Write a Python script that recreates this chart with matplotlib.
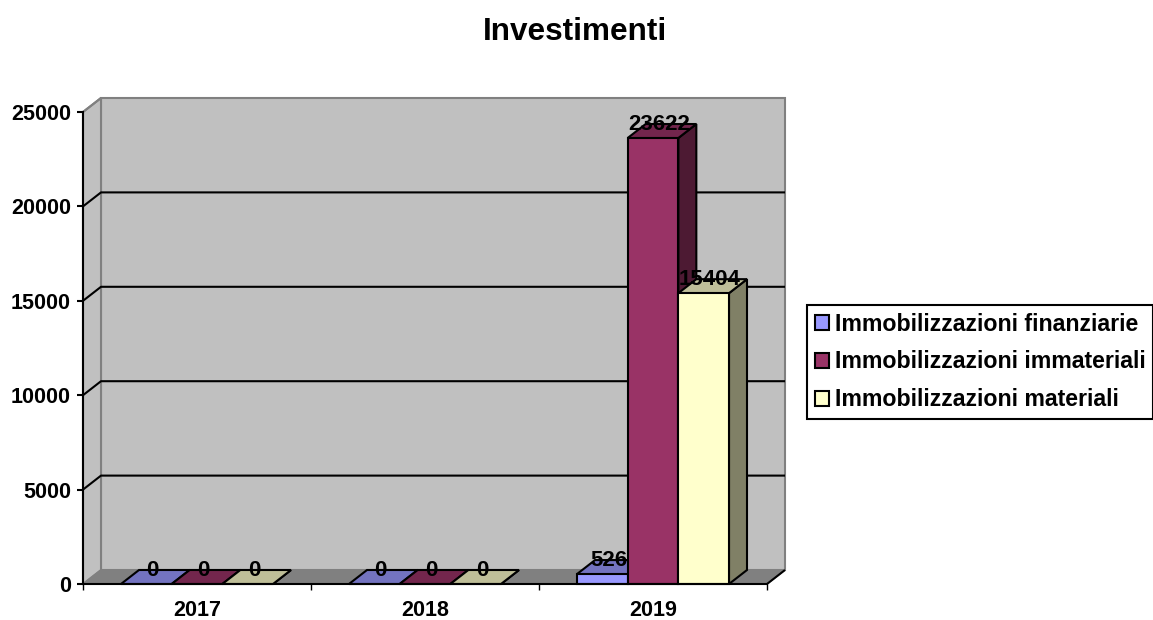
import matplotlib
matplotlib.use('Agg')
import matplotlib.pyplot as plt
from matplotlib.patches import Polygon, Rectangle

plt.rcParams['font.family'] = ['Liberation Sans', 'DejaVu Sans']
plt.rcParams['font.weight'] = 'bold'

years = ['2017', '2018', '2019']
series_names = ['Immobilizzazioni finanziarie', 'Immobilizzazioni immateriali', 'Immobilizzazioni materiali']
finanziarie = [0, 0, 526]
immateriali = [0, 0, 23622]
materiali = [0, 0, 15404]
yticks = [0, 5000, 10000, 15000, 20000, 25000]

front_colours = ['#9999FF', '#993366', '#FFFFCC']
top_colours = ['#7373C0', '#73264D', '#BFBF99']
side_colours = ['#4D4D80', '#4D1A33', '#808066']

W, H = 1153, 620
fig = plt.figure(figsize=(W / 100, H / 100), dpi=100)
ax = fig.add_axes([83 / W, (H - 584) / H, 684 / W, 472 / H])
ax.set_xlim(0, 3)
ax.set_ylim(0, 25000)
ax.patch.set_visible(False)

# depth of the fake 3d box, in data units
dx = 18 / 228
dy = 14 / 472 * 25000


def poly(pts, fc, ec='black', lw=1.5, z=2):
    ax.add_patch(Polygon(pts, closed=True, facecolor=fc, edgecolor=ec, linewidth=lw,
                         zorder=z, clip_on=False, joinstyle='miter'))


def line(xs, ys, c='black', lw=1.5, z=1.5):
    ax.plot(xs, ys, color=c, lw=lw, zorder=z, clip_on=False, solid_capstyle='butt')


# walls and floor
poly([(dx, dy), (3 + dx, dy), (3 + dx, 25000 + dy), (dx, 25000 + dy)], '#C0C0C0', '#808080', 1.5, 1)
poly([(0, 0), (dx, dy), (dx, 25000 + dy), (0, 25000)], '#C0C0C0', '#808080', 1.5, 1.1)
poly([(0, 0), (3, 0), (3 + dx, dy), (dx, dy)], '#808080', '#808080', 1, 1.2)
line([3, 3 + dx], [0, dy], z=1.3)

# gridlines on the back wall, running down the side wall to the ticks
for t in yticks[1:5]:
    line([0, dx, 3 + dx], [t, t + dy, t + dy])
line([0, dx], [25000, 25000 + dy], c='#808080')

# bars
bar_w = 1 / 4.5
gap = 0.75 * bar_w
for s, values in enumerate([finanziarie, immateriali, materiali]):
    for i, v in enumerate(values):
        x0 = i + gap + s * bar_w
        x1 = x0 + bar_w
        poly([(x1, 0), (x1 + dx, dy), (x1 + dx, v + dy), (x1, v)], side_colours[s], z=3 + s)
        poly([(x0, v), (x1, v), (x1 + dx, v + dy), (x0 + dx, v + dy)], top_colours[s], z=3 + s)
        if v > 0:
            poly([(x0, 0), (x1, 0), (x1, v), (x0, v)], front_colours[s], z=3 + s)
        ax.text(x0 + bar_w / 2 + dx * 0.35, v + dy, str(v), ha='center', va='center',
                fontsize=16, color='black', zorder=8)

# axes
for side in ['top', 'right']:
    ax.spines[side].set_visible(False)
for side in ['left', 'bottom']:
    ax.spines[side].set_linewidth(1.5)
    ax.spines[side].set_zorder(7)
ax.set_yticks(yticks)
ax.set_xticks([0, 1, 2, 3])
ax.set_xticklabels([])
ax.set_xticks([0.5, 1.5, 2.5], minor=True)
ax.set_xticklabels(years, minor=True)
ax.tick_params(axis='y', length=4.3, width=1.5, labelsize=15.5, pad=4.3)
ax.tick_params(axis='x', which='major', length=4.3, width=1, direction='out')
ax.tick_params(axis='x', which='minor', length=0, labelsize=15.5, pad=11.5)

fig.text(575 / W, 1 - 32 / H, 'Investimenti', ha='center', va='center', fontsize=22.7, fontweight='bold')

# legend
handles = [Rectangle((0, 0), 1, 1, facecolor=c, edgecolor='black', linewidth=1.5) for c in front_colours]
leg = fig.legend(handles, series_names, loc='upper left', bbox_to_anchor=(807 / W, 1 - 305 / H),
                 bbox_transform=fig.transFigure, fontsize=16.7, frameon=True, fancybox=False,
                 edgecolor='black', framealpha=1, borderaxespad=0, borderpad=0.33,
                 handlelength=0.6, handleheight=0.6, handletextpad=0.26, labelspacing=0.64)
leg.get_frame().set_linewidth(1.5)

fig.savefig('out.png', dpi=100)
